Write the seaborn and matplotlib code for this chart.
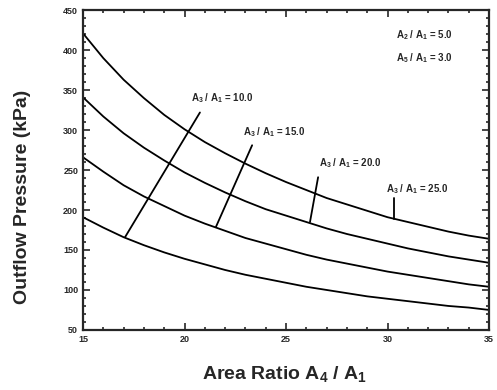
import numpy as np
import pandas as pd
import matplotlib
matplotlib.use('Agg')
import matplotlib.pyplot as plt
import seaborn as sns
from matplotlib.ticker import MultipleLocator

# area ratio A4/A1 (x axis)
area_ratio = [15, 16, 17, 18, 19, 20, 21, 22, 23, 24, 25,
              26, 27, 28, 29, 30, 31, 32, 33, 34, 35]

# outflow pressure (kPa) for the four curves (top to bottom)
curve_a = [421, 390, 363, 340, 319, 301, 285, 271, 258, 246, 235,
           225, 215, 207, 199, 191, 185, 179, 173, 168, 164]
curve_b = [341, 317, 296, 278, 262, 247, 234, 222, 211, 201, 193,
           185, 177, 170, 164, 158, 152, 147, 142, 138, 134]
curve_c = [266, 248, 231, 217, 205, 193, 183, 174, 165, 158, 151,
           144, 138, 133, 128, 123, 119, 115, 111, 107, 104]
curve_d = [191, 178, 166, 156, 147, 139, 132, 125, 119, 114, 109,
           104, 100, 96, 92, 89, 86, 83, 80, 78, 75]

# A3/A1 leader lines: (x top, P top, x bottom, P bottom) and labels
a3_labels = ['10.0', '15.0', '20.0', '25.0']
a3_x_top = [20.76, 23.33, 26.58, 30.32]
a3_p_top = [322, 281, 241, 215]
a3_x_bot = [17.07, 21.55, 26.18, 30.32]
a3_p_bot = [166, 179, 185, 189]
a3_text_x = [20.3, 22.9, 26.6, 29.9]
a3_text_p = [340, 298, 259, 226]

sns.set_style('ticks')
plt.rcParams['font.family'] = ['Liberation Sans', 'DejaVu Sans']
plt.rcParams['mathtext.fontset'] = 'custom'
plt.rcParams['mathtext.rm'] = 'Liberation Sans:bold'
plt.rcParams['mathtext.it'] = 'Liberation Sans:bold'
plt.rcParams['mathtext.bf'] = 'Liberation Sans:bold'

rows = []
for name, vals in zip(['a', 'b', 'c', 'd'], [curve_a, curve_b, curve_c, curve_d]):
    for x, p in zip(area_ratio, vals):
        rows.append({'ratio': x, 'pressure': p, 'curve': name})
df = pd.DataFrame(rows)

fig = plt.figure(figsize=(4.97, 3.90), dpi=100)
ax = fig.add_axes([0.167, 0.154, 0.817, 0.820])

sns.lineplot(data=df, x='ratio', y='pressure', units='curve', estimator=None,
             color='black', linewidth=1.3, ax=ax)

for i in range(len(a3_labels)):
    ax.plot([a3_x_top[i], a3_x_bot[i]], [a3_p_top[i], a3_p_bot[i]],
            color='black', linewidth=1.3)
    ax.text(a3_text_x[i], a3_text_p[i],
            r'A$_3$ / A$_1$ = ' + a3_labels[i],
            fontsize=7, fontweight='bold', va='center', ha='left')

ax.text(30.4, 419, r'A$_2$ / A$_1$ = 5.0', fontsize=7, fontweight='bold', va='center')
ax.text(30.4, 390, r'A$_5$ / A$_1$ = 3.0', fontsize=7, fontweight='bold', va='center')

ax.set_xlim(15, 35)
ax.set_ylim(50, 450)
ax.xaxis.set_major_locator(MultipleLocator(5))
ax.xaxis.set_minor_locator(MultipleLocator(1))
ax.yaxis.set_major_locator(MultipleLocator(50))
ax.yaxis.set_minor_locator(MultipleLocator(10))
ax.tick_params(which='both', direction='in', top=True, right=True, width=1.2)
ax.tick_params(which='major', length=5, labelsize=6.5)
ax.tick_params(which='minor', length=2.5)
for lbl in ax.get_xticklabels() + ax.get_yticklabels():
    lbl.set_fontweight('bold')
for sp in ax.spines.values():
    sp.set_linewidth(1.6)
    sp.set_visible(True)

ax.set_xlabel(r'Area Ratio A$_4$ / A$_1$', fontsize=14, fontweight='bold')
ax.set_ylabel('Outflow Pressure (kPa)', fontsize=14, fontweight='bold')
ax.xaxis.set_label_coords(0.496, -0.108)
ax.yaxis.set_label_coords(-0.128, 0.416)

fig.savefig('out.png', dpi=100)
